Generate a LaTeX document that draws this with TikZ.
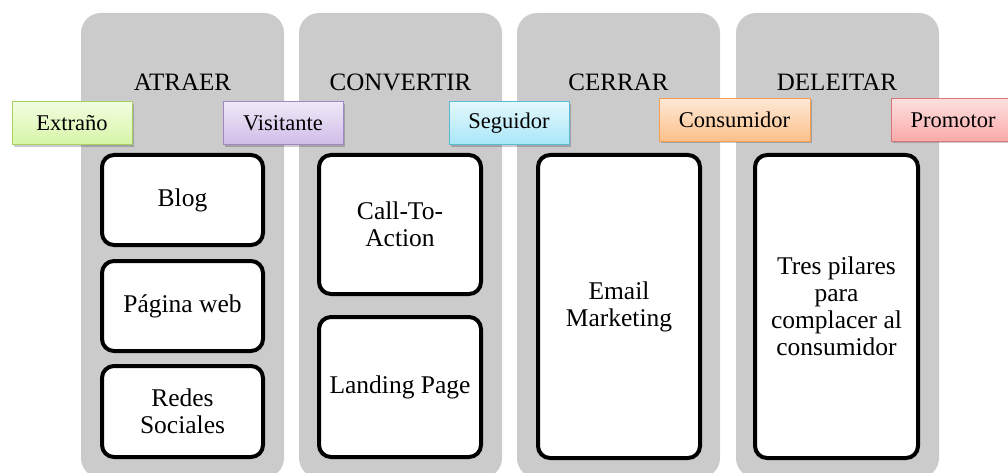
\documentclass[tikz,border=0pt]{standalone}
\usepackage{fontspec}
\setmainfont{Liberation Serif}
\usetikzlibrary{shadows}

\definecolor{gris}{HTML}{CBCBCB}
\definecolor{verdeB}{HTML}{A6CF66}
\definecolor{verdeA}{HTML}{F2FDE0}
\definecolor{verdeC}{HTML}{D6F5A6}
\definecolor{moradoB}{HTML}{A088C8}
\definecolor{moradoA}{HTML}{EFE8F7}
\definecolor{moradoC}{HTML}{CFBCE8}
\definecolor{azulB}{HTML}{5BBAD5}
\definecolor{azulA}{HTML}{E4F8FD}
\definecolor{azulC}{HTML}{A8E6F7}
\definecolor{naranjaB}{HTML}{F5A050}
\definecolor{naranjaA}{HTML}{FEE8D6}
\definecolor{naranjaC}{HTML}{FCC089}
\definecolor{rojoB}{HTML}{D77676}
\definecolor{rojoA}{HTML}{FDE0E0}
\definecolor{rojoC}{HTML}{FBA9A9}

\tikzset{
  columna/.style={fill=gris, rounded corners=20pt},
  titulo/.style={font=\fontsize{25}{27}\selectfont, inner sep=0pt},
  tarjeta/.style={draw=black, line width=4pt, fill=white, rounded corners=12pt,
    align=center, font=\fontsize{25.5}{27}\selectfont, inner sep=2pt},
  etiqueta/.style n args={3}{draw=#1, line width=1pt, top color=#2, bottom color=#3,
    minimum height=43pt, inner sep=0pt, font=\fontsize{22.5}{24}\selectfont,
    drop shadow={shadow xshift=2pt, shadow yshift=-2pt, opacity=0.2, fill=black}}
}

\begin{document}
\begin{tikzpicture}[x=1pt, y=-1pt]
            \useasboundingbox (0,0) rectangle (1008,473);
            \clip (0,0) rectangle (1008,473);
            % columnas grises
            \foreach \x in {81,299,517,736} {
                \fill[columna] (\x,13) rectangle ++(203,465);
            }
            % titulos
            \node[titulo] (atraer) at (182.5,82.5) {ATRAER};
            \node[titulo] (convertir) at (400.5,82.5) {CONVERTIR};
            \node[titulo] (cerrar) at (618.5,82.5) {CERRAR};
            \node[titulo] (deleitar) at (837,82.5) {DELEITAR};
            % tarjetas
            \node[tarjeta, minimum width=161pt, minimum height=90pt] (blog) at (182.5,200) {Blog};
            \node[tarjeta, minimum width=161pt, minimum height=90pt] (pagina) at (182.5,306) {Página web};
            \node[tarjeta, minimum width=161pt, minimum height=91pt] (redes) at (182.5,411.5) {Redes\\Sociales};
            \node[tarjeta, minimum width=162pt, minimum height=139pt] (cta) at (400,224.5) {Call-To-\\Action};
            \node[tarjeta, minimum width=162pt, minimum height=140pt] (landing) at (400,387) {Landing Page};
            \node[tarjeta, minimum width=162pt, minimum height=303pt] (email) at (619,306.5) {Email\\Marketing};
            \node[tarjeta, minimum width=163pt, minimum height=303pt] (pilares) at (836.5,306.5) {Tres pilares\\para\\complacer al\\consumidor};
            % etiquetas
            \node[etiqueta={verdeB}{verdeA}{verdeC}, minimum width=120pt] (extrano) at (72,123.5) {Extraño};
            \node[etiqueta={moradoB}{moradoA}{moradoC}, minimum width=120pt] (visitante) at (283,123.5) {Visitante};
            \node[etiqueta={azulB}{azulA}{azulC}, minimum width=120pt] (seguidor) at (509,123.5) {Seguidor};
            \node[etiqueta={naranjaB}{naranjaA}{naranjaC}, minimum width=151pt] (consumidor) at (734.5,120) {Consumidor};
            \node[etiqueta={rojoB}{rojoA}{rojoC}, minimum width=124pt] (promotor) at (953,120) {Promotor};
        \end{tikzpicture}
\end{document}
